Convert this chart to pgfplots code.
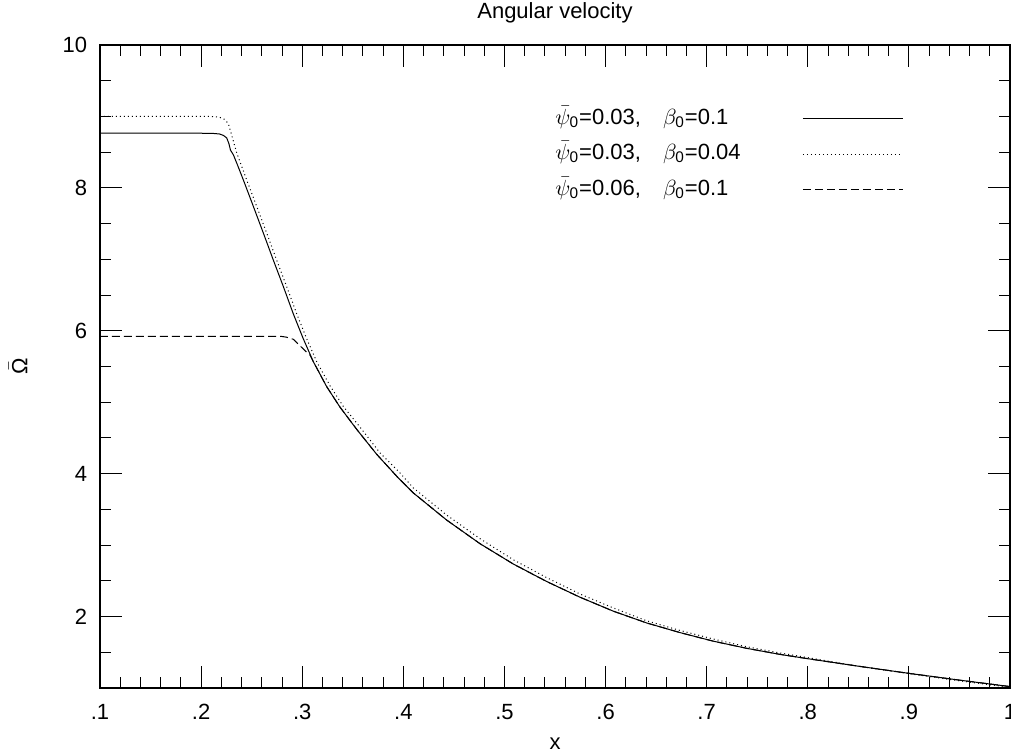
\documentclass[border=0pt]{standalone}
\usepackage{amsmath}
\usepackage{fontspec}
\setmainfont{Liberation Sans}
\usepackage{pgfplots}
\pgfplotsset{compat=1.18}

% solid: psi0=0.03, beta0=0.1
\pgfplotstableread{
x y
0.100 8.765
0.200 8.765
0.212 8.762
0.218 8.755
0.222 8.735
0.2253 8.70
0.2275 8.62
0.2290 8.53
0.2320 8.46
0.2360 8.32
0.2418 8.11
0.2517 7.74
0.2615 7.37
0.2714 6.99
0.2813 6.62
0.2911 6.24
0.3010 5.89
0.3109 5.57
0.3241 5.22
0.3374 4.93
0.3539 4.62
0.3737 4.27
0.3937 3.96
0.4099 3.73
0.4429 3.35
0.4758 3.02
0.5088 2.735
0.5418 2.49
0.5748 2.27
0.6077 2.075
0.6407 1.91
0.6737 1.775
0.7066 1.655
0.7396 1.555
0.7726 1.470
0.8000 1.410
0.8500 1.305
0.9000 1.205
0.9500 1.110
1.0000 1.020
}\solidtab

% dotted: psi0=0.03, beta0=0.04
\pgfplotstableread{
x y
0.100 9.00
0.210 9.00
0.218 8.99
0.223 8.96
0.2269 8.90
0.2302 8.74
0.2352 8.49
0.2451 8.11
0.2550 7.74
0.2648 7.37
0.2747 6.99
0.2846 6.62
0.2945 6.24
0.3044 5.89
0.3142 5.57
0.3275 5.23
0.3407 4.94
0.3572 4.65
0.3770 4.29
0.3967 4.01
0.4099 3.80
0.4429 3.42
0.4758 3.09
0.5088 2.795
0.5418 2.545
0.5748 2.315
0.6077 2.120
0.6407 1.940
0.6737 1.805
0.7066 1.685
0.7396 1.577
0.7726 1.490
0.8000 1.425
0.8500 1.305
0.9000 1.200
0.9500 1.100
1.0000 1.010
}\dottedtab

% dashed: psi0=0.06, beta0=0.1
\pgfplotstableread{
x y
0.100 5.92
0.280 5.92
0.2846 5.91
0.2913 5.88
0.2978 5.79
0.3044 5.70
0.3077 5.66
0.3109 5.57
0.3241 5.22
0.3374 4.93
0.3539 4.62
0.3737 4.27
0.3937 3.96
0.4099 3.73
0.4429 3.35
0.4758 3.02
0.5088 2.735
0.5418 2.49
0.5748 2.27
0.6077 2.075
0.6407 1.91
0.6737 1.775
0.7066 1.655
0.7396 1.555
0.7726 1.470
0.8000 1.410
0.8500 1.305
0.9000 1.205
0.9500 1.110
1.0000 1.020
}\dashedtab

\begin{document}
\fontsize{11}{13}\selectfont
\begin{tikzpicture}
\begin{axis}[
  scale only axis, width=455pt, height=321.5pt,
  xmin=0.1, xmax=1, ymin=1, ymax=10,
  axis line style={line width=0.6pt},
  every tick/.style={black, line width=0.5pt},
  major tick length=11pt, minor tick length=5.5pt,
  xtick={0.1,0.2,0.3,0.4,0.5,0.6,0.7,0.8,0.9,1},
  xticklabels={.1,.2,.3,.4,.5,.6,.7,.8,.9,1},
  minor x tick num=4,
  ytick={2,4,6,8,10},
  yticklabels={2,4,6,8,10},
  minor ytick={1.5,2.5,3,3.5,4.5,5,5.5,6.5,7,7.5,8.5,9,9.5},
  xticklabel style={anchor=center, yshift=-12pt},
  yticklabel style={anchor=east, xshift=-2.6pt},
  title={Angular velocity},
  title style={at={(axis description cs:0.5,1.0311)}, anchor=center},
  xlabel={x},
  xlabel style={at={(axis description cs:0.5,-0.0871)}, anchor=center},
  ylabel={$\bar{\text{Ω}}$},
  ylabel style={at={(axis description cs:-0.09,0.5)}, anchor=center},
  legend plot pos=right,
  legend cell align=left,
  legend image code/.code={\draw[#1] (0pt,0pt) -- (50pt,0pt);},
  legend style={draw=none, fill=none, inner sep=0pt, row sep=7.25pt,
    column sep=0pt,
    nodes={inner sep=0pt, text height=8pt, text depth=2.5pt, text width=123.5pt},
    at={(axis cs:0.550,9.122)}, anchor=north west},
]
\addplot[black, line width=0.5pt, line join=round] table[x=x,y=y] {\solidtab};
\addlegendentry{$\bar{\psi}_{\text{0}}$=0.03,\hspace{11pt}$\beta_{\text{0}}$=0.1}
\addplot[black, line width=0.5pt, dash pattern=on 0.5pt off 1.5pt] table[x=x,y=y] {\dottedtab};
\addlegendentry{$\bar{\psi}_{\text{0}}$=0.03,\hspace{11pt}$\beta_{\text{0}}$=0.04}
\addplot[black, line width=0.5pt, dash pattern=on 4pt off 2pt] table[x=x,y=y] {\dashedtab};
\addlegendentry{$\bar{\psi}_{\text{0}}$=0.06,\hspace{11pt}$\beta_{\text{0}}$=0.1}
\end{axis}
\pgfresetboundingbox
\path ([shift={(-50pt,-33.5pt)}]current axis.south west) rectangle ([shift={(0.5pt,22.5pt)}]current axis.north east);
\end{tikzpicture}
\end{document}
